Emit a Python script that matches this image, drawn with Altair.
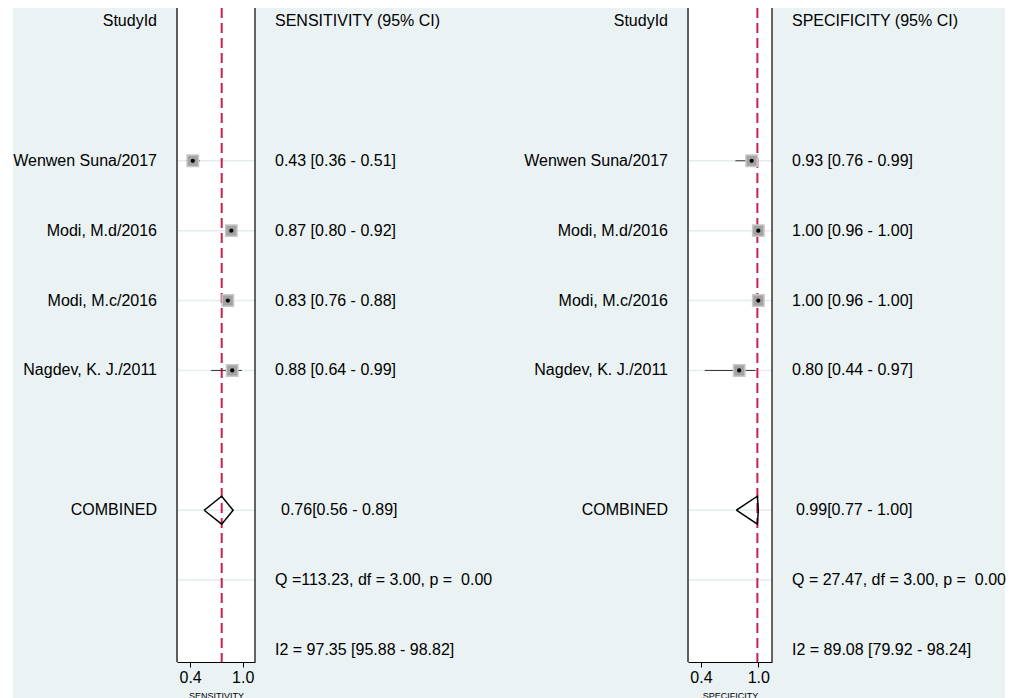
import altair as alt
import pandas as pd

# ---- study-level accuracy estimates ----
studies = ["Wenwen Suna/2017", "Modi, M.d/2016", "Modi, M.c/2016", "Nagdev, K. J./2011"]
study_rows = [2, 3, 4, 5]

sens_est = [0.43, 0.87, 0.83, 0.88]
sens_lo = [0.36, 0.80, 0.76, 0.64]
sens_hi = [0.51, 0.92, 0.88, 0.99]

spec_est = [0.93, 1.00, 1.00, 0.80]
spec_lo = [0.76, 0.96, 0.96, 0.44]
spec_hi = [0.99, 1.00, 1.00, 0.97]

# ---- pooled estimates and heterogeneity ----
pooled_sens = [0.76, 0.56, 0.89]      # estimate, lower, upper
pooled_spec = [0.99, 0.77, 1.00]
q_sens = [113.23, 3.00, 0.00]         # Q, df, p
q_spec = [27.47, 3.00, 0.00]
i2_sens = [97.35, 95.88, 98.82]       # I2, lower, upper
i2_spec = [89.08, 79.92, 98.24]

HEADER_ROW, COMBINED_ROW, Q_ROW, I2_ROW = 0, 7, 8, 9
grid_rows = study_rows + [COMBINED_ROW, Q_ROW]

FONT = "Liberation Sans"
RED = "#CF1F4C"
PLOT_H = 654

y_scale = alt.Scale(domain=[0, 9], range=[13, 642], nice=False, zero=False)
Y = alt.Y("row:Q", scale=y_scale, axis=None)


def keep_spaces(s):
    return s.replace("  ", " \u00a0")


def panel(est, lo, hi, pooled, q, i2, x_range, x_domain, axis_title):
    xs = alt.Scale(domain=x_domain, range=x_range, nice=False, zero=False)
    ax = alt.Axis(values=[0.4, 1.0], format=".1f", orient="bottom", offset=-36,
                  title=axis_title, titleFontSize=9, titleFontWeight="normal",
                  titleColor="black", titlePadding=6, labelFontSize=16,
                  labelColor="black", labelPadding=2, tickSize=5, tickColor="black",
                  domainColor="black", domainWidth=1, grid=False)

    def X(field):
        return alt.X(f"{field}:Q", scale=xs, axis=ax)

    studies_df = pd.DataFrame({"row": study_rows, "est": est, "lo": lo, "hi": hi})
    pooled_df = pd.DataFrame({"est": [pooled[0]]})
    grid_df = pd.DataFrame({"row": grid_rows})
    one = pd.DataFrame({"k": [0]})
    # diamond outline: lower -> estimate (top) -> upper -> estimate (bottom) -> lower
    h = 0.2
    diamond_df = pd.DataFrame({
        "i": [0, 1, 2, 3, 4],
        "x": [pooled[1], pooled[0], pooled[2], pooled[0], pooled[1]],
        "row": [COMBINED_ROW, COMBINED_ROW - h, COMBINED_ROW, COMBINED_ROW + h, COMBINED_ROW],
    })

    frame = alt.Chart(one).mark_rect(fill="white").encode(
        x=alt.value(x_range[0]), x2=alt.value(x_range[1]),
        y=alt.value(0), y2=alt.value(PLOT_H))
    grid = alt.Chart(grid_df).mark_rule(color="#E4ECEE", strokeWidth=1.5).encode(
        x=alt.value(x_range[0]), x2=alt.value(x_range[1]), y=Y)
    left_edge = alt.Chart(one).mark_rule(color="#5E5E5E", strokeWidth=2).encode(
        x=alt.value(x_range[0]), y=alt.value(0), y2=alt.value(PLOT_H))
    right_edge = alt.Chart(one).mark_rule(color="black", strokeWidth=1.2).encode(
        x=alt.value(x_range[1]), y=alt.value(0), y2=alt.value(PLOT_H))
    ref_line = alt.Chart(pooled_df).mark_rule(color=RED, strokeWidth=2, strokeDash=[10, 5]).encode(
        x=X("est"), y=alt.value(0), y2=alt.value(PLOT_H))
    ci = alt.Chart(studies_df).mark_rule(color="#333333", strokeWidth=1).encode(
        x=X("lo"), x2="hi", y=Y)
    boxes = alt.Chart(studies_df).mark_square(size=130, color="#A2A2A2", opacity=1,
                                              stroke="#C8C8C8", strokeWidth=1.5).encode(
        x=X("est"), y=Y)
    dots = alt.Chart(studies_df).mark_circle(size=18, color="black", opacity=1).encode(
        x=X("est"), y=Y)
    diamond = alt.Chart(diamond_df).mark_line(color="black", strokeWidth=1.5).encode(
        x=X("x"), y=Y, order="i:Q")

    return alt.layer(frame, grid, ref_line, ci, boxes, dots, diamond, left_edge, right_edge)


def text_layer(rows, labels, x, align):
    df = pd.DataFrame({"row": rows, "label": labels})
    return alt.Chart(df).mark_text(align=align, baseline="middle", font=FONT,
                                   fontSize=16, color="black").encode(
        x=alt.value(x), y=Y, text="label:N")


def side_texts(header, est, lo, hi, pooled, q, i2, label_x, value_x, combined_x):
    names = ["StudyId"] + studies + ["COMBINED"]
    name_rows = [HEADER_ROW] + study_rows + [COMBINED_ROW]
    values = [header] + [f"{e:.2f} [{l:.2f} - {u:.2f}]" for e, l, u in zip(est, lo, hi)]
    value_rows = [HEADER_ROW] + study_rows
    stats = [keep_spaces(f"Q ={q[0]:6.2f}, df ={q[1]:5.2f}, p ={q[2]:6.2f}"),
             f"I2 = {i2[0]:.2f} [{i2[1]:.2f} - {i2[2]:.2f}]"]
    return [
        text_layer(name_rows, names, label_x, "right"),
        text_layer(value_rows + [Q_ROW, I2_ROW], values + stats, value_x, "left"),
        text_layer([COMBINED_ROW], [f"{pooled[0]:.2f}[{pooled[1]:.2f} - {pooled[2]:.2f}]"],
                   combined_x, "left"),
    ]


sens_panel = panel(sens_est, sens_lo, sens_hi, pooled_sens, q_sens, i2_sens,
                   [164, 242], [0.25, 1.14], "SENSITIVITY")
spec_panel = panel(spec_est, spec_lo, spec_hi, pooled_spec, q_spec, i2_spec,
                   [675, 759], [0.264, 1.143], "SPECIFICITY")

texts = (side_texts("SENSITIVITY (95% CI)", sens_est, sens_lo, sens_hi, pooled_sens,
                    q_sens, i2_sens, 144, 262, 268)
         + side_texts("SPECIFICITY (95% CI)", spec_est, spec_lo, spec_hi, pooled_spec,
                      q_spec, i2_spec, 655, 779, 783))

chart = (
    alt.layer(sens_panel, spec_panel, *texts)
    .resolve_scale(x="independent")
    .properties(width=992, height=690, background="white",
                padding={"left": 13, "top": 8, "right": 14, "bottom": 0},
                autosize=alt.AutoSizeParams(type="none"))
    .configure_view(fill="#EAF2F3", strokeWidth=0)
    .configure_axis(labelFont=FONT, titleFont=FONT)
)

chart.save("out.html", embed_options={"renderer": "svg", "actions": False})
